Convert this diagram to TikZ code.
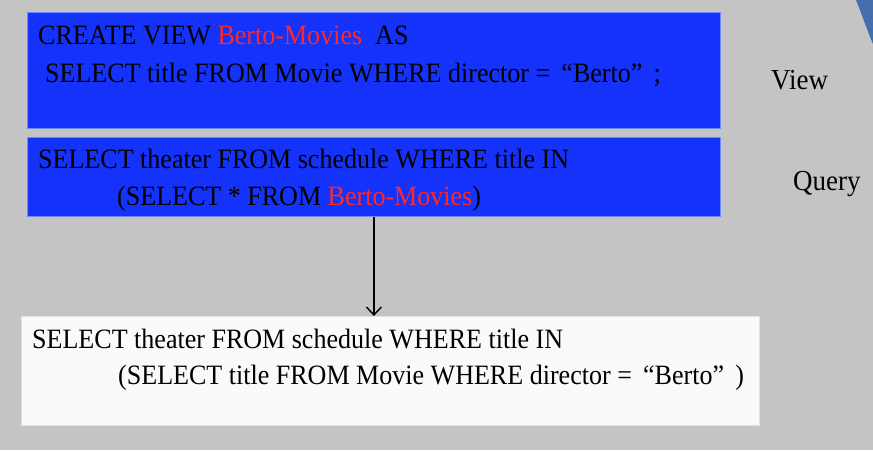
\documentclass[tikz,border=0pt]{standalone}
\usepackage{fontspec}
\setmainfont{Liberation Serif}[FakeStretch=0.93]
\usetikzlibrary{arrows.meta}
\definecolor{slidegray}{RGB}{196,196,196}
\definecolor{viewblue}{RGB}{20,50,250}
\definecolor{edgeblue}{RGB}{110,140,255}
\definecolor{namered}{RGB}{255,40,40}
\definecolor{swooshblue}{RGB}{70,110,175}

\begin{document}
\begin{tikzpicture}[x=1pt,y=-1pt]
        \fill[slidegray] (0,0) rectangle (873,450);
        \useasboundingbox (0,0) rectangle (873,450);
        \fill[swooshblue] (856,0) .. controls (862,15) and (867,30) .. (873,44) -- (873,0) -- cycle;

        \begin{scope}[
            bluebox/.style={fill=viewblue, draw=edgeblue, line width=0.8pt, inner sep=0pt, anchor=north west},
            whitebox/.style={fill=white!98!black, draw=white!88!black, line width=0.5pt, inner sep=0pt, anchor=north west},
            sql/.style={anchor=base west, inner sep=0pt, font=\fontsize{28}{32}\selectfont},
            side/.style={anchor=base west, inner sep=0pt, font=\fontsize{29}{32}\selectfont}]
            \node[bluebox, minimum width=693pt, minimum height=116pt] (view) at (27,12) {};
            \node[bluebox, minimum width=693pt, minimum height=79pt] (query) at (27,137) {};
            \node[whitebox, minimum width=738pt, minimum height=109pt] (result) at (21,316) {};

            \node[sql] (view1) at (38,44) {CREATE VIEW \textcolor{namered}{Berto-Movies}\ \ AS};
            \node[sql] (view2) at (45,82) {SELECT title FROM Movie WHERE director = \,“Berto”\,\ ;};
            \node[sql] (query1) at (38,168) {SELECT theater FROM schedule WHERE title IN};
            \node[sql] (query2) at (117,205) {(SELECT * FROM \textcolor{namered}{Berto-Movies})};
            \node[sql] (result1) at (32,348) {SELECT theater FROM schedule WHERE title IN};
            \node[sql] (result2) at (118,384) {(SELECT title FROM Movie WHERE director = \,“Berto”\,\ )};

            \node[side] (viewlbl) at (771,89) {View};
            \node[side] (querylbl) at (793,190) {Query};
        \end{scope}

        \begin{scope}[
            every edge/.style={draw=black, line width=1.4pt}]
            \path [-{Straight Barb[length=8pt,width=15pt]}] (query.south) edge (query.south |- result.north);
        \end{scope}

        \end{tikzpicture}
\end{document}
